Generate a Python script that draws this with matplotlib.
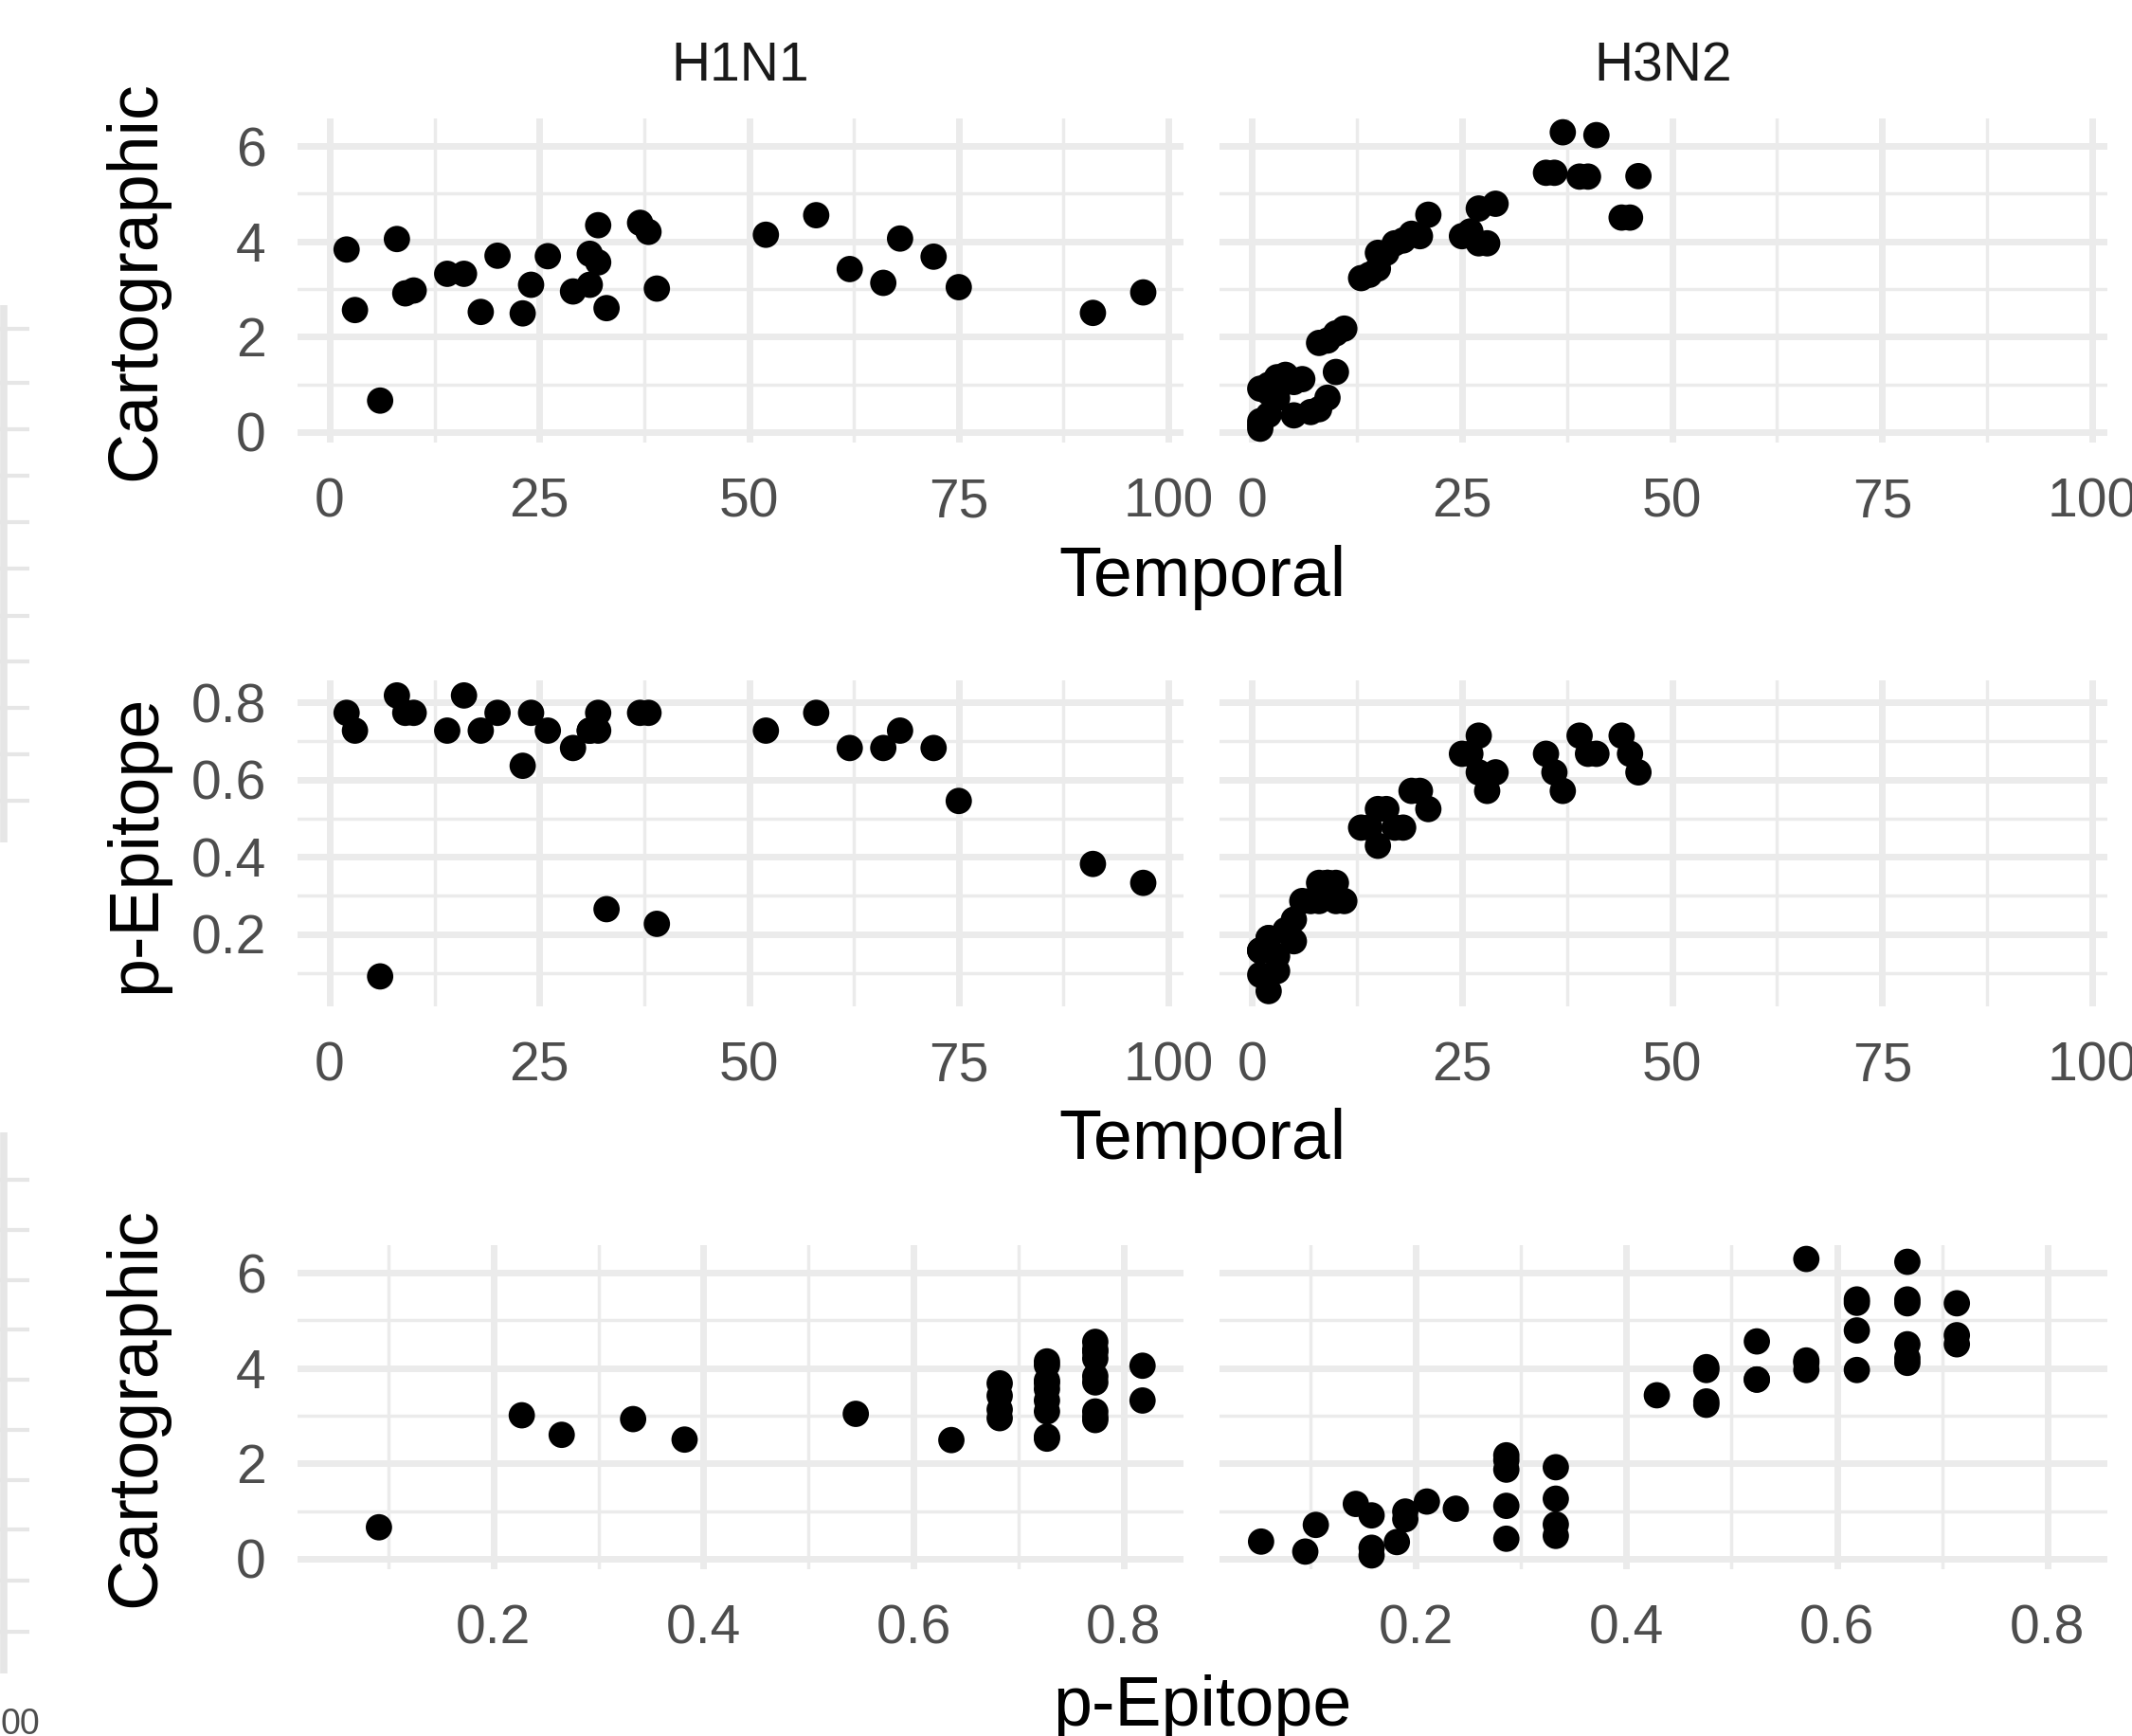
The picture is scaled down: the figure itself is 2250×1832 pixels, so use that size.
import matplotlib
matplotlib.use('Agg')
import matplotlib.pyplot as plt
from matplotlib.ticker import FixedLocator

plt.rcParams['font.family'] = ['Liberation Sans', 'DejaVu Sans']

# ---------------- data ----------------
subtypes = ['H1N1', 'H3N2']

h1_temporal = [2, 3, 6, 8, 9, 10, 14, 16, 18, 20, 23, 24, 26, 29, 31, 31, 32, 32,
               33, 37, 38, 39, 52, 58, 62, 66, 68, 72, 75, 91, 97]
h1_cartographic = [3.83, 2.56, 0.66, 4.05, 2.91, 2.97, 3.32, 3.32, 2.52, 3.70, 2.49, 3.09,
                   3.69, 2.95, 3.74, 3.09, 3.56, 4.34, 2.60, 4.39, 4.20, 3.01, 4.14, 4.55,
                   3.42, 3.13, 4.06, 3.68, 3.04, 2.50, 2.93]
h1_pepitope = [0.773, 0.727, 0.091, 0.818, 0.773, 0.773, 0.727, 0.818, 0.727, 0.773, 0.636,
               0.773, 0.727, 0.682, 0.727, 0.727, 0.727, 0.773, 0.265, 0.773, 0.773, 0.227,
               0.727, 0.773, 0.682, 0.682, 0.727, 0.682, 0.545, 0.382, 0.333]

h3_temporal = [35, 36, 37, 39, 40, 41, 44, 45, 46,
               25, 26, 27, 27, 28, 29,
               13, 14, 15, 15, 16, 17, 18, 19, 20, 21,
               11, 10, 9, 8, 10, 9, 8, 7, 6, 5, 5, 4, 3, 1, 2, 2, 3, 2, 1, 1, 1]
h3_cartographic = [5.44, 5.44, 6.29, 5.36, 5.36, 6.23, 4.50, 4.50, 5.37,
                   4.11, 4.21, 4.69, 3.96, 3.96, 4.79,
                   3.23, 3.30, 3.43, 3.76, 3.76, 3.96, 4.02, 4.16, 4.11, 4.56,
                   2.17, 2.07, 1.92, 1.87, 1.26, 0.72, 0.48, 0.42, 1.11, 1.05, 0.35,
                   1.20, 1.15, 0.91, 0.99, 0.83, 0.71, 0.36, 0.15, 0.23, 0.07]
h3_pepitope = [0.667, 0.619, 0.571, 0.714, 0.667, 0.667, 0.714, 0.667, 0.619,
               0.667, 0.667, 0.714, 0.619, 0.571, 0.619,
               0.476, 0.476, 0.429, 0.524, 0.524, 0.476, 0.476, 0.571, 0.571, 0.524,
               0.286, 0.286, 0.333, 0.286, 0.333, 0.333, 0.333, 0.286, 0.286, 0.238, 0.182,
               0.2105, 0.143, 0.158, 0.190, 0.190, 0.105, 0.053, 0.095, 0.158, 0.158]

temporal_ticks = [0, 25, 50, 75, 100]
temporal_labels = ['0', '25', '50', '75', '100']
cart_ticks = [0, 2, 4, 6]
cart_labels = ['0', '2', '4', '6']
pepi_ticks = [0.2, 0.4, 0.6, 0.8]
pepi_labels = ['0.2', '0.4', '0.6', '0.8']

data = {
    'H1N1': (h1_temporal, h1_cartographic, h1_pepitope),
    'H3N2': (h3_temporal, h3_cartographic, h3_pepitope),
}

# ---------------- layout ----------------
W, H = 2250, 1832
fig = plt.figure(figsize=(W / 100, H / 100), dpi=100)
fig.patch.set_facecolor('white')

rows = [(125, 467), (718, 1062), (1314, 1656)]
cols = [(314, 1249), (1287, 2224)]

temporal_lim = (-3.85, 101.8)
cart_lim = (-0.22, 6.58)
pepi_lim = (0.0135, 0.857)

GRID = '#EBEBEB'
TICKC = '#4D4D4D'


def px_axes(x0, y0, x1, y1):
    return fig.add_axes([x0 / W, 1 - y1 / H, (x1 - x0) / W, (y1 - y0) / H])


def style(ax, xticks, xlabels, xminor, yticks, ylabels, yminor, show_y):
    ax.set_facecolor('white')
    for s in ax.spines.values():
        s.set_visible(False)
    ax.set_axisbelow(True)
    ax.xaxis.set_major_locator(FixedLocator(xticks))
    ax.set_xticklabels(xlabels)
    ax.xaxis.set_minor_locator(FixedLocator(xminor))
    ax.yaxis.set_major_locator(FixedLocator(yticks))
    ax.set_yticklabels(ylabels)
    ax.yaxis.set_minor_locator(FixedLocator(yminor))
    ax.grid(which='major', color=GRID, linewidth=5.0)
    ax.grid(which='minor', color=GRID, linewidth=2.5)
    ax.tick_params(which='both', length=0)
    ax.tick_params(axis='x', labelsize=41, labelcolor=TICKC, pad=26)
    ax.tick_params(axis='y', labelsize=41, labelcolor=TICKC, pad=24,
                   labelleft=show_y)


# faint remnants of a neighbouring (cropped) figure at the far left edge
edge = fig.add_axes([0, 0, 1, 1], zorder=-5)
edge.set_xlim(0, W)
edge.set_ylim(H, 0)
edge.axis('off')
for (y0, y1, ticks) in [(322, 889, [347, 404, 453, 502, 551, 600, 650, 698, 747, 796, 845]),
                        (1195, 1766, [1245, 1298, 1351, 1403, 1456, 1509, 1562, 1614,
                                      1668, 1722])]:
    edge.plot([4, 4], [y0, y1], color='#E6E6E6', linewidth=5.5, solid_capstyle='butt')
    for t in ticks:
        edge.plot([0, 31], [t, t], color='#E6E6E6', linewidth=3.0, solid_capstyle='butt')
edge.text(0, 1830, '00', ha='left', va='baseline', fontsize=27, color=TICKC)

panel_specs = [
    # (x index, y index, xlim, ylim, xticks, xlabels, xminor, yticks, ylabels, yminor)
    (0, 1, temporal_lim, cart_lim, temporal_ticks, temporal_labels, [12.5, 37.5, 62.5, 87.5],
     cart_ticks, cart_labels, [1, 3, 5]),
    (0, 2, temporal_lim, pepi_lim, temporal_ticks, temporal_labels, [12.5, 37.5, 62.5, 87.5],
     pepi_ticks, pepi_labels, [0.1, 0.3, 0.5, 0.7]),
    (2, 1, pepi_lim, cart_lim, pepi_ticks, pepi_labels, [0.1, 0.3, 0.5, 0.7],
     cart_ticks, cart_labels, [1, 3, 5]),
]

for r, spec in enumerate(panel_specs):
    xi, yi, xlim, ylim, xt, xl, xm, yt, yl, ym = spec
    for c, name in enumerate(subtypes):
        ax = px_axes(cols[c][0], rows[r][0], cols[c][1], rows[r][1])
        vals = data[name]
        ax.scatter(vals[xi], vals[yi], s=400, color='black', edgecolors='none',
                   zorder=3, clip_on=False)
        ax.set_xlim(*xlim)
        ax.set_ylim(*ylim)
        style(ax, xt, xl, xm, yt, yl, ym, show_y=(c == 0))

# strip titles
for c, name in enumerate(subtypes):
    fig.text((cols[c][0] + cols[c][1]) / 2 / W, 1 - 70 / H, name, ha='center', va='center',
             fontsize=41, color='#1A1A1A')

# axis titles
xcenter = (cols[0][0] + cols[1][1]) / 2 / W
fig.text(xcenter, 1 - 629 / H, 'Temporal', ha='center', va='baseline', fontsize=53)
fig.text(xcenter, 1 - 1223 / H, 'Temporal', ha='center', va='baseline', fontsize=53)
fig.text(xcenter, 1 - 1821 / H, 'p-Epitope', ha='center', va='baseline', fontsize=53)

for ypix, label in [(296, 'Cartographic'), (890, 'p-Epitope'), (1485, 'Cartographic')]:
    fig.text(163 / W, 1 - ypix / H, label, rotation=90, ha='center', va='baseline',
             fontsize=53, rotation_mode='anchor')

fig.savefig('out.png', dpi=100, facecolor='white')
